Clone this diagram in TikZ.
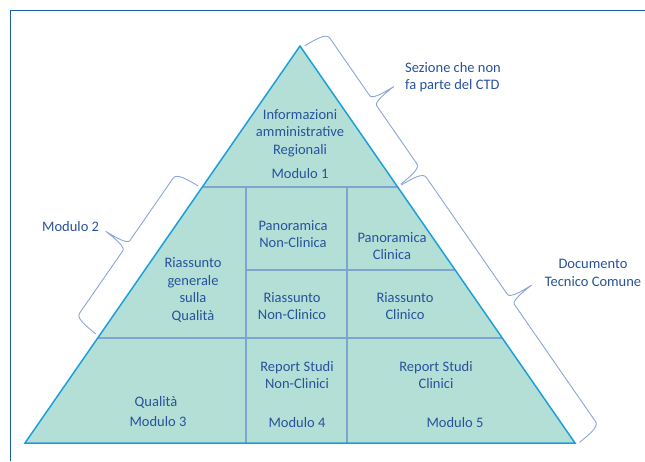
\documentclass[tikz,border=0pt]{standalone}
\usepackage{fontspec}
\setmainfont{Carlito}
\usetikzlibrary{calc}
\definecolor{tealfill}{RGB}{180,223,214}
\definecolor{edgecyan}{RGB}{28,160,220}
\definecolor{gridblue}{RGB}{125,165,205}
\definecolor{txtblue}{RGB}{40,82,155}
\definecolor{bracecol}{RGB}{140,165,215}
\definecolor{framecol}{RGB}{25,95,165}
\tikzset{
  txt/.style={text=txtblue, font=\fontsize{14.5}{17.5}\selectfont, align=center, inner sep=0pt},
  bracestyle/.style={draw=bracecol, line width=0.9pt, line join=round},
  gridline/.style={draw=gridblue, line width=1.1pt},
}
\newcommand{\ctdbrace}[2]{%
  \pgfmathsetmacro{\brmid}{(#1+#2)/2}%
  \draw[bracestyle] (#1,4) .. controls (#1+1,18) and (#1+2,29) .. (#1+8,29)
    -- (\brmid-6,29) .. controls (\brmid-2,29) and (\brmid-0.5,42) .. (\brmid,54)
    .. controls (\brmid+0.5,42) and (\brmid+2,29) .. (\brmid+6,29)
    -- (#2-8,29) .. controls (#2-2,29) and (#2-1,18) .. (#2,4);}
\begin{document}
\begin{tikzpicture}[x=1pt,y=-1pt]
\useasboundingbox (0,0) rectangle (645,461);
% frame
\draw[framecol, line width=1.5pt] (10.5,461) -- (10.5,10.5) -- (645,10.5);
% triangle
\coordinate (A) at (300,46);
\coordinate (BL) at (25,443);
\coordinate (BR) at (575,443);
\fill[tealfill] (A) -- (BL) -- (BR) -- cycle;
% grid
\coordinate (L1) at (202.3,187);
\coordinate (R1) at (397.7,187);
\coordinate (M2) at (246,270);
\coordinate (R2) at (455.2,270);
\coordinate (L3) at (97.7,338);
\coordinate (R3) at (502.3,338);
\coordinate (V1t) at (246,187);
\coordinate (V1b) at (246,443);
\coordinate (V2t) at (347,187);
\coordinate (V2b) at (347,443);
\draw[gridline] (L1) -- (R1);
\draw[gridline] (M2) -- (R2);
\draw[gridline] (L3) -- (R3);
\draw[gridline] (V1t) -- (V1b);
\draw[gridline] (V2t) -- (V2b);
\draw[edgecyan, line width=1.5pt, line join=miter] (A) -- (BL) -- (BR) -- cycle;
% braces
\begin{scope}[shift={(300,46)}, rotate=-55.28, x=1pt, y=1pt]
  \ctdbrace{2.5}{171}
  \ctdbrace{172}{485}
\end{scope}
\begin{scope}[shift={(300,46)}, rotate=-124.72, yscale=-1, x=1pt, y=1pt]
  \ctdbrace{173}{353}
\end{scope}
% texts
\node[txt] (info) at (300,133) {Informazioni\\amministrative\\Regionali};
\node[txt] (mod1) at (300,174) {Modulo 1};
\node[txt, anchor=west, align=left] (sez) at (405,77) {Sezione che non\\fa parte del CTD};
\node[txt, anchor=west] (mod2) at (42,227) {Modulo 2};
\node[txt] (rgq) at (193,290) {Riassunto\\generale\\sulla\\Qualità};
\node[txt] (pnc) at (293,234) {Panoramica\\Non-Clinica};
\node[txt] (pc) at (392,246) {Panoramica\\Clinica};
\node[txt] (rnc) at (292,306) {Riassunto\\Non-Clinico};
\node[txt] (rc) at (405,306) {Riassunto\\Clinico};
\node[txt] (rsnc) at (297,375) {Report Studi\\Non-Clinici};
\node[txt] (rsc) at (436,375) {Report Studi\\Clinici};
\node[txt] (qual) at (156,402) {Qualità};
\node[txt] (mod3) at (158,422) {Modulo 3};
\node[txt] (mod4) at (297,423) {Modulo 4};
\node[txt] (mod5) at (455,423) {Modulo 5};
\node[txt] (doc) at (593,273) {Documento\\Tecnico Comune};
\end{tikzpicture}
\end{document}
